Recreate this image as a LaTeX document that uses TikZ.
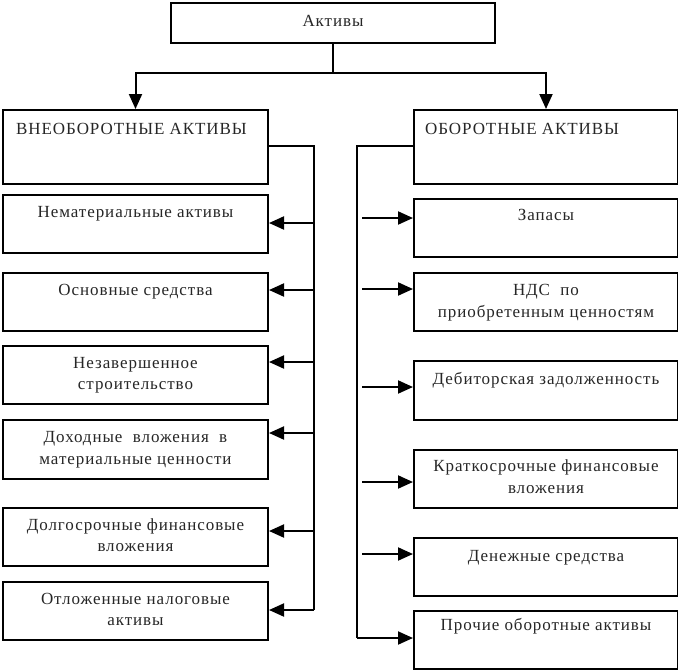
\documentclass[tikz,border=0pt]{standalone}
\usepackage{fontspec}
\setmainfont{Liberation Serif}[LetterSpace=5.5]
\usetikzlibrary{arrows.meta}
\begin{document}
\begin{tikzpicture}[x=1pt,y=-1pt,
  box/.style={draw, line width=2pt, inner sep=0pt, anchor=north west},
  txt/.style={font=\fontsize{17}{21.5}\selectfont, align=center, inner sep=0pt, text=black!85},
  wire/.style={line width=2pt},
  arr/.style={wire, -{Triangle[length=15pt,width=13pt]}}]
\useasboundingbox (0,0) rectangle (678,670);
% top
\node[box, minimum width=324pt, minimum height=40pt] (top) at (170,2) {};
\node[txt, anchor=base] (topt) at ([yshift=-24pt]top.north) {Активы};
% headers
\node[box, minimum width=265pt, minimum height=74pt] (L0) at (2,109) {};
\node[txt, anchor=base west] (L0t) at (16,134) {ВНЕОБОРОТНЫЕ АКТИВЫ};
\node[box, minimum width=264pt, minimum height=74pt] (R0) at (413,109) {};
\node[txt, anchor=base west] (R0t) at (425,134) {ОБОРОТНЫЕ АКТИВЫ};
% left boxes
\node[box, minimum width=265pt, minimum height=58pt] (L1) at (2,194) {};
\node[box, minimum width=265pt, minimum height=58pt] (L2) at (2,272) {};
\node[box, minimum width=265pt, minimum height=58pt] (L3) at (2,345) {};
\node[box, minimum width=265pt, minimum height=59pt] (L4) at (2,419) {};
\node[box, minimum width=265pt, minimum height=58pt] (L5) at (2,507) {};
\node[box, minimum width=265pt, minimum height=58pt] (L6) at (2,581) {};
\node[txt, anchor=base] (L1t) at ([yshift=-23pt]L1.north) {Нематериальные активы};
\node[txt, anchor=base] (L2t) at ([yshift=-23pt]L2.north) {Основные средства};
\node[txt, anchor=base] (L3t) at ([yshift=-44.5pt]L3.north) {Незавершенное\\строительство};
\node[txt, anchor=base] (L4t) at ([yshift=-45pt]L4.north) {Доходные\ \ вложения\ \ в\\материальные ценности};
\node[txt, anchor=base] (L5t) at ([yshift=-44.5pt]L5.north) {Долгосрочные финансовые\\вложения};
\node[txt, anchor=base] (L6t) at ([yshift=-44.5pt]L6.north) {Отложенные налоговые\\активы};
% right boxes
\node[box, minimum width=264pt, minimum height=58pt] (R1) at (413,198) {};
\node[box, minimum width=264pt, minimum height=58pt] (R2) at (413,272) {};
\node[box, minimum width=264pt, minimum height=59pt] (R3) at (413,360) {};
\node[box, minimum width=264pt, minimum height=58pt] (R4) at (413,449) {};
\node[box, minimum width=264pt, minimum height=58pt] (R5) at (413,537) {};
\node[box, minimum width=264pt, minimum height=58pt] (R6) at (413,610) {};
\node[txt, anchor=base] (R1t) at ([yshift=-22pt]R1.north) {Запасы};
\node[txt, anchor=base] (R2t) at ([yshift=-45pt]R2.north) {НДС\ \ по\\приобретенным ценностям};
\node[txt, anchor=base] (R3t) at ([yshift=-24pt]R3.north) {Дебиторская задолженность};
\node[txt, anchor=base] (R4t) at ([yshift=-44pt]R4.north) {Краткосрочные финансовые\\вложения};
\node[txt, anchor=base] (R5t) at ([yshift=-24pt]R5.north) {Денежные средства};
\node[txt, anchor=base] (R6t) at ([yshift=-20pt]R6.north) {Прочие оборотные активы};
% top connectors
\draw[wire] (top.south) -- ++(0,29) coordinate (jm);
\draw[arr] (jm) -| (L0.north);
\draw[arr] (jm) -| (R0.north);
% left bus
\coordinate (lbt) at (314,146);
\coordinate (lbb) at (314,610);
\draw[wire] (L0.east |- lbt) -- (lbt) -- (lbb);
\coordinate (a1) at (314,223);
\coordinate (a2) at (314,290);
\coordinate (a3) at (314,362);
\coordinate (a4) at (314,433);
\coordinate (a5) at (314,531);
\draw[arr] (a1) -- (L1.east |- a1);
\draw[arr] (a2) -- (L2.east |- a2);
\draw[arr] (a3) -- (L3.east |- a3);
\draw[arr] (a4) -- (L4.east |- a4);
\draw[arr] (a5) -- (L5.east |- a5);
\draw[arr] (lbb) -- (L6.east |- lbb);
% right bus
\coordinate (rbt) at (357,146);
\coordinate (rbb) at (357,638);
\draw[wire] (R0.west |- rbt) -- (rbt) -- (rbb);
\coordinate (b1) at (362,218);
\coordinate (b2) at (362,289);
\coordinate (b3) at (362,387);
\coordinate (b4) at (362,482);
\coordinate (b5) at (362,554);
\draw[arr] (b1) -- (R1.west |- b1);
\draw[arr] (b2) -- (R2.west |- b2);
\draw[arr] (b3) -- (R3.west |- b3);
\draw[arr] (b4) -- (R4.west |- b4);
\draw[arr] (b5) -- (R5.west |- b5);
\draw[arr] (rbb) -- (R6.west |- rbb);
\end{tikzpicture}
\end{document}
